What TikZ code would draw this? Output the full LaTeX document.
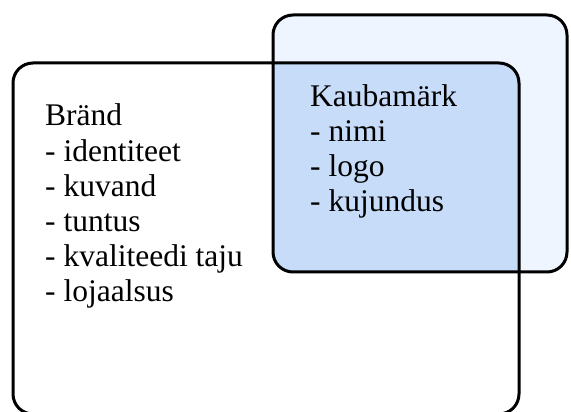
\documentclass[tikz,border=0pt]{standalone}
\usepackage{fontspec}
\setmainfont{Liberation Serif}
\definecolor{lightblue}{RGB}{238,245,255}
\definecolor{midblue}{RGB}{198,220,249}
\begin{document}
\begin{tikzpicture}[x=1pt,y=1pt,
  box/.style={line width=3pt, inner sep=0pt, outer sep=0pt, rectangle},
  outline/.style={draw=black, line width=3pt, rounded corners=20pt},
  label/.style={font=\fontsize{31.5}{35.2}\selectfont, align=left, inner sep=0pt, anchor=base west}]
\useasboundingbox[fill=white] (0,0) rectangle (571,412);
% right rectangle (Kaubamärk)
\node[box, minimum width=294pt, minimum height=257pt] (kaup) at (420,268.5) {};
% left rectangle (Bränd)
\node[box, minimum width=506pt, minimum height=351pt] (brand) at (266,173.5) {};
\fill[lightblue, rounded corners=20pt] (kaup.south west) rectangle (kaup.north east);
\begin{scope}
  \clip[rounded corners=20pt] (brand.south west) rectangle (brand.north east);
  \fill[midblue, rounded corners=20pt] (kaup.south west) rectangle (kaup.north east);
\end{scope}
\draw[outline] (kaup.south west) rectangle (kaup.north east);
\draw[outline] (brand.south west) rectangle (brand.north east);
\node[label] (brandtext) at (45,110) {Bränd\\- identiteet\\- kuvand\\- tuntus\\- kvaliteedi taju\\- lojaalsus};
\node[label] (kauptext) at (310,200) {Kaubamärk\\- nimi\\- logo\\- kujundus};
\end{tikzpicture}
\end{document}
